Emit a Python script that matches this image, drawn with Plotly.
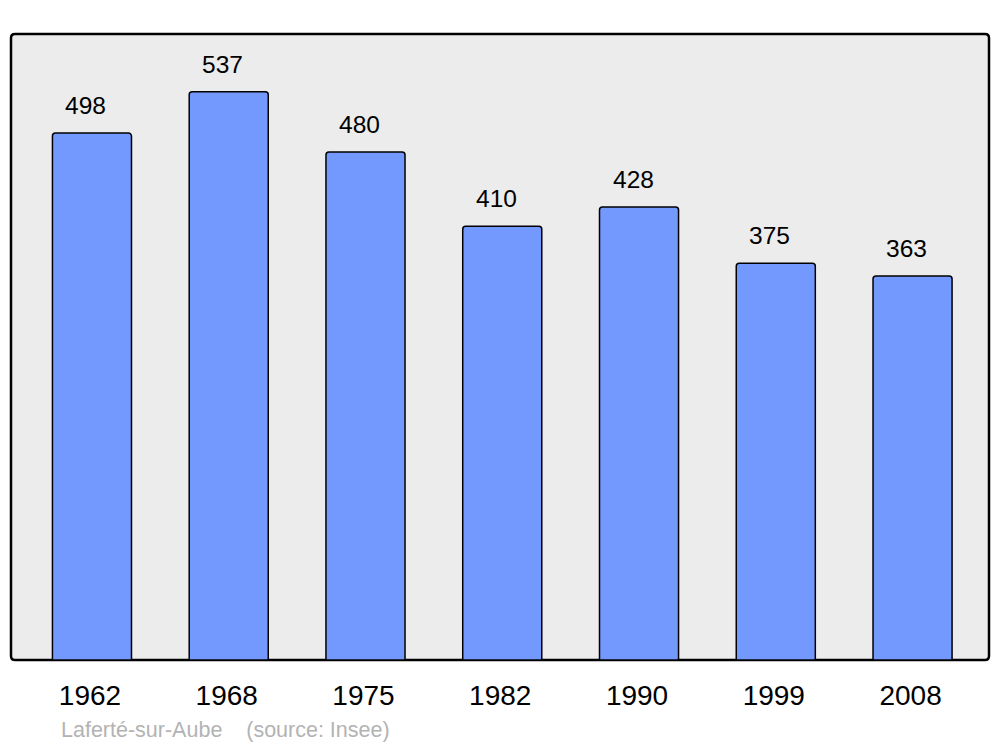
import plotly.graph_objects as go

years = ["1962", "1968", "1975", "1982", "1990", "1999", "2008"]
population = [498, 537, 480, 410, 428, 375, 363]
source_text = "Laferté-sur-Aube    (source: Insee)"

W, H = 1000, 747
L, R, T, B = 11, 11, 34, 87
pw, ph = W - L - R, H - T - B

xpos = list(range(len(years)))
FONT = "Liberation Sans, Arial, sans-serif"
x_range = [-0.592, 6.559]
px_per_unit = pw / (x_range[1] - x_range[0])
tick_offset = -2 / px_per_unit

fig = go.Figure()
fig.add_trace(go.Bar(
    x=xpos, y=population, width=0.578,
    marker=dict(color="#7399ff", line=dict(color="#000000", width=1.5), cornerradius=3),
    hoverinfo="skip",
))

for xi, v in zip(xpos, population):
    fig.add_annotation(x=xi, y=v, text=str(v), showarrow=False, xref="x", yref="y",
                       yanchor="bottom", yshift=12, xshift=-6,
                       font=dict(family=FONT, size=24.5, color="#000000"))

fig.add_annotation(x=(59 - L) / pw, y=1 - (730 - T) / ph, xref="paper", yref="paper",
                   text=source_text, showarrow=False, xanchor="left", yanchor="middle",
                   font=dict(family=FONT, size=21.5, color="#b3b3b3"))

# rounded frame around plot area (paper coords)
r = 4
rx, ry = r / pw, r / ph
path = (f"M {rx},0 L {1-rx},0 Q 1,0 1,{ry} L 1,{1-ry} Q 1,1 {1-rx},1 "
        f"L {rx},1 Q 0,1 0,{1-ry} L 0,{ry} Q 0,0 {rx},0 Z")
fig.add_shape(type="path", path=path, xref="paper", yref="paper",
              line=dict(color="#000000", width=2.5), fillcolor="#ececec", layer="below")

fig.update_layout(
    width=W, height=H,
    margin=dict(l=L, r=R, t=T, b=B, pad=0),
    paper_bgcolor="#ffffff", plot_bgcolor="rgba(0,0,0,0)",
    showlegend=False,
    xaxis=dict(range=x_range, tickvals=[x + tick_offset for x in xpos], ticktext=years,
               showgrid=False, zeroline=False, showline=False, ticks="", ticklabelstandoff=16,
               tickfont=dict(family=FONT, size=28, color="#000000"),
               fixedrange=True),
    yaxis=dict(range=[0, 591.6], showgrid=False, zeroline=False, showline=False,
               showticklabels=False, ticks="", fixedrange=True),
)

fig.write_html("out.html", config={"displayModeBar": False},
               post_script="document.body.style.margin='0';document.body.style.overflow='hidden';")
